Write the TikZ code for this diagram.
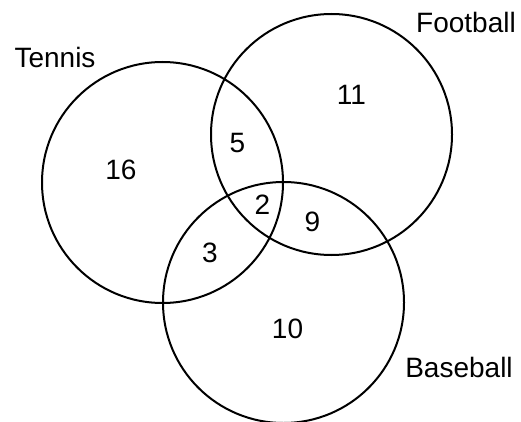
\documentclass[tikz,border=0pt]{standalone}
\usepackage{fontspec}
\setmainfont{Liberation Sans}
\begin{document}
\begin{tikzpicture}[x=1pt,y=-1pt,
  setcircle/.style={draw=black,line width=2pt,circle,minimum size=241pt,inner sep=0pt},
  setlabel/.style={inner sep=0pt,font=\fontsize{28}{30}\selectfont},
  count/.style={inner sep=0pt,font=\fontsize{28}{30}\selectfont}]
  \useasboundingbox (0,0) rectangle (521,422);
  % the three sets
  \node[setcircle] (tennis)   at (162.5,182.5) {};
  \node[setcircle] (football) at (331.5,134.5) {};
  \node[setcircle] (baseball) at (283.5,302.5) {};
  % set names
  \node[setlabel] (ltennis)   at (55,57)    {Tennis};
  \node[setlabel] (lfootball) at (466,22.5) {Football};
  \node[setlabel] (lbaseball) at (459,367)  {Baseball};
  % region counts
  \node[count] (nT)   at (121,170)   {16};
  \node[count] (nF)   at (351.5,95)  {11};
  \node[count] (nB)   at (287.5,328.5) {10};
  \node[count] (nTF)  at (237.5,143) {5};
  \node[count] (nTB)  at (210,253)   {3};
  \node[count] (nFB)  at (312.5,222) {9};
  \node[count] (nTFB) at (262.5,205) {2};
\end{tikzpicture}
\end{document}
